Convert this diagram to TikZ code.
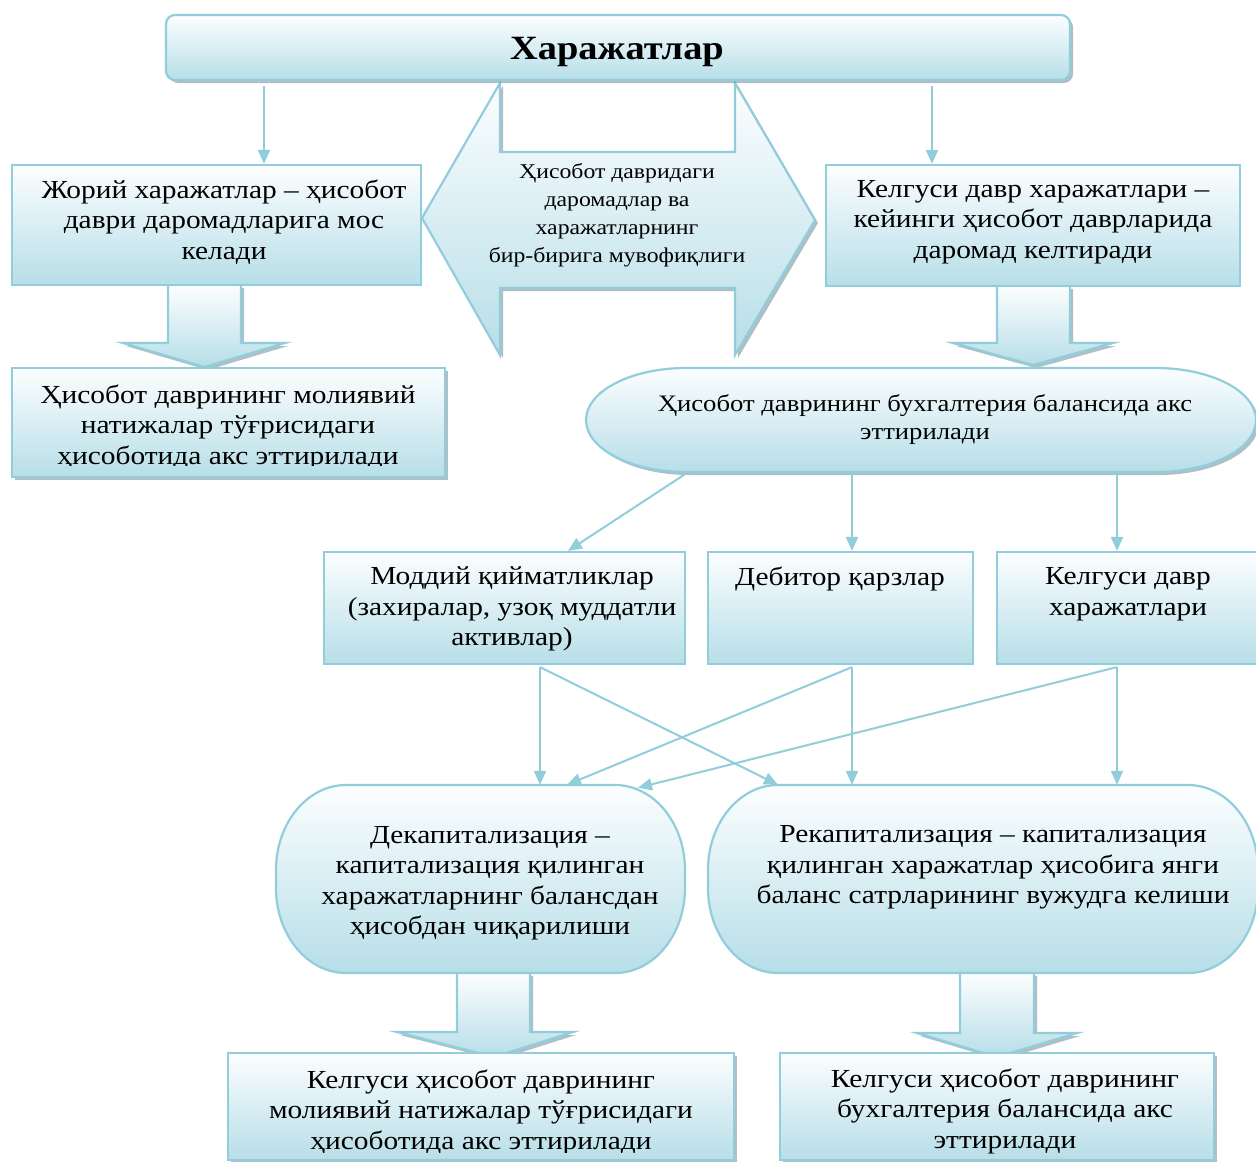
\documentclass[tikz,border=0pt]{standalone}
\usepackage{fontspec}
\setmainfont[FakeStretch=1.13]{Liberation Serif}
\usetikzlibrary{arrows.meta,shadows,calc}
\definecolor{bd}{RGB}{146,205,220}
\definecolor{fb}{RGB}{183,222,232}
\definecolor{ft}{RGB}{252,254,255}
\definecolor{shc}{RGB}{110,140,150}
\newcommand{\myblockarrow}[8]{%
  \path[shapef, shad] (#1,#3) -- (#1,#4) -- (#5,#4) -- (#7,#8) -- (#6,#4) -- (#2,#4) -- (#2,#3);}
\tikzset{
  box/.style={draw=bd, line width=2.2pt, top color=ft, bottom color=fb, inner sep=0pt, rectangle},
  shad/.style={drop shadow={shadow xshift=3pt, shadow yshift=-3pt, fill=shc, opacity=0.55}},
  frame/.style={inner sep=0pt, rectangle},
  bigt/.style={font=\fontsize{26}{30.5}\selectfont, align=center, inner sep=0pt},
  midt/.style={font=\fontsize{21}{28}\selectfont, align=center, inner sep=0pt},
  balt/.style={font=\fontsize{23.6}{28}\selectfont, align=center, inner sep=0pt},
  conn/.style={draw=bd, line width=2pt, -{Triangle[length=14pt,width=12pt]}},
  shapef/.style={draw=bd, line width=2.2pt, top color=ft, bottom color=fb},
}
\begin{document}
\begin{tikzpicture}[x=1pt, y=-1pt]
\path[use as bounding box, clip] (0,0) rectangle (1256,1162);
\fill[white] (0,0) rectangle (1256,1162);

% central double arrow
\path[shapef, shad] (422,218) -- (500,83) -- (500,152) -- (735,152) -- (735,83) -- (815,220)
  -- (735,355) -- (735,288) -- (500,288) -- (500,355) -- cycle;
\node[midt] (dblt) at (617,215) {Ҳисобот давридаги\\даромадлар ва\\харажатларнинг\\бир-бирига мувофиқлиги};

% header
\node[box, shad, rounded corners=9pt, minimum width=904pt, minimum height=65pt] (hdr) at (618,47.5) {};
\node[font=\fontsize{34}{40}\selectfont\bfseries, inner sep=0pt] (hdrt) at (617,52) {Харажатлар};

% block arrows (top)
\myblockarrow{168}{241}{285}{343}{123}{285}{204.5}{367}
\myblockarrow{997}{1070}{286}{343}{953}{1113}{1033}{365}

% top boxes
\node[box, minimum width=409pt, minimum height=120pt] (jor) at (216.5,225) {};
\node[bigt] (jort) at (224,222) {Жорий харажатлар – ҳисобот\\даври даромадларига мос\\келади};
\node[box, minimum width=414pt, minimum height=121pt] (kel) at (1033,225.5) {};
\node[bigt] (kelt) at (1033,222) {Келгуси давр харажатлари –\\кейинги ҳисобот даврларида\\даромад келтиради};

\draw[conn] ([xshift=-354pt,yshift=-5pt]hdr.south) -- ([xshift=47.5pt]jor.north);
\draw[conn] ([xshift=314pt,yshift=-5pt]hdr.south) -- ([xshift=-101pt]kel.north);

% financial results box
\node[box, shad, minimum width=433pt, minimum height=109pt] (mol) at (228.5,422.5) {};
\begin{scope}
\clip (12,368) rectangle (445,465);
\node[bigt] (molt) at (228,427) {Ҳисобот даврининг молиявий\\натижалар тўғрисидаги\\ҳисоботида акс эттирилади};
\end{scope}

% balance sheet stadium
\path[shapef, shad] (686,368) -- (1156,368) .. controls (1211.2,368) and (1256,391.3) .. (1256,420)
  .. controls (1256,448.7) and (1211.2,472) .. (1156,472) -- (686,472)
  .. controls (630.8,472) and (586,448.7) .. (586,420)
  .. controls (586,391.3) and (630.8,368) .. (686,368) -- cycle;
\node[frame, minimum width=670pt, minimum height=104pt] (bal) at (921,420) {};
\node[balt] (baltx) at (925,420) {Ҳисобот даврининг бухгалтерия балансида акс\\эттирилади};

% middle row
\node[box, minimum width=361pt, minimum height=112pt] (mod) at (504.5,608) {};
\node[bigt] (modt) at (512,609) {Моддий қийматликлар\\(захиралар, узоқ муддатли\\активлар)};
\node[box, minimum width=265pt, minimum height=112pt] (deb) at (840.5,608) {};
\node[bigt] (debt) at (840,579) {Дебитор қарзлар};
\node[box, minimum width=263pt, minimum height=112pt] (kelb) at (1128.5,608) {};
\node[bigt] (kelbt) at (1128,594) {Келгуси давр\\харажатлари};

\draw[conn] ([xshift=-236pt,yshift=-2pt]bal.south) -- ([xshift=63.5pt]mod.north);
\draw[conn] ([xshift=-69pt,yshift=-2pt]bal.south) -- ([xshift=11.5pt]deb.north);
\draw[conn] ([xshift=196pt,yshift=-2pt]bal.south) -- ([xshift=-11.5pt]kelb.north);

% block arrows (bottom)
\myblockarrow{457}{530}{973}{1032}{397}{573}{494}{1057}
\myblockarrow{960}{1034}{973}{1033}{917}{1077}{997}{1057}

% decapitalisation / recapitalisation
\path[shapef] (346,785) -- (615,785) .. controls (653.7,785) and (685,823.1) .. (685,870) -- (685,888)
  .. controls (685,934.9) and (653.7,973) .. (615,973) -- (346,973)
  .. controls (307.3,973) and (276,934.9) .. (276,888) -- (276,870)
  .. controls (276,823.1) and (307.3,785) .. (346,785) -- cycle;
\node[frame, minimum width=409pt, minimum height=188pt] (dec) at (480.5,879) {};
\node[bigt] (dect) at (490,883) {Декапитализация –\\капитализация қилинган\\харажатларнинг балансдан\\ҳисобдан чиқарилиши};
\path[shapef] (778,785) -- (1188,785) .. controls (1226.7,785) and (1258,823.1) .. (1258,870) -- (1258,888)
  .. controls (1258,934.9) and (1226.7,973) .. (1188,973) -- (778,973)
  .. controls (739.3,973) and (708,934.9) .. (708,888) -- (708,870)
  .. controls (708,823.1) and (739.3,785) .. (778,785) -- cycle;
\node[frame, minimum width=550pt, minimum height=188pt] (rec) at (983,879) {};
\node[bigt] (rect) at (993,867.5) {Рекапитализация – капитализация\\қилинган харажатлар ҳисобига янги\\баланс сатрларининг вужудга келиши};

\draw[conn] ([xshift=35.5pt,yshift=-2pt]mod.south) -- ([xshift=59.5pt]dec.north);
\draw[conn] ([xshift=35.5pt,yshift=-2pt]mod.south) -- ([xshift=-205pt]rec.north);
\draw[conn] ([xshift=11.5pt,yshift=-2pt]deb.south) -- ([xshift=86.5pt]dec.north);
\draw[conn] ([xshift=11.5pt,yshift=-2pt]deb.south) -- ([xshift=-131pt]rec.north);
\draw[conn] ([xshift=-11.5pt,yshift=-2pt]kelb.south) -- ([xshift=157.5pt,yshift=-3pt]dec.north);
\draw[conn] ([xshift=-11.5pt,yshift=-2pt]kelb.south) -- ([xshift=134pt]rec.north);

% bottom boxes
\node[box, shad, minimum width=506pt, minimum height=107pt] (bl) at (481,1106.5) {};
\begin{scope}
\clip (228,1053) rectangle (734,1152);
\node[bigt] (blt) at (481,1112) {Келгуси ҳисобот даврининг\\молиявий натижалар тўғрисидаги\\ҳисоботида акс эттирилади};
\end{scope}
\node[box, shad, minimum width=434pt, minimum height=107pt] (br) at (997,1106.5) {};
\node[bigt] (brt) at (1005,1111) {Келгуси ҳисобот даврининг\\бухгалтерия балансида акс\\эттирилади};
\end{tikzpicture}
\end{document}
